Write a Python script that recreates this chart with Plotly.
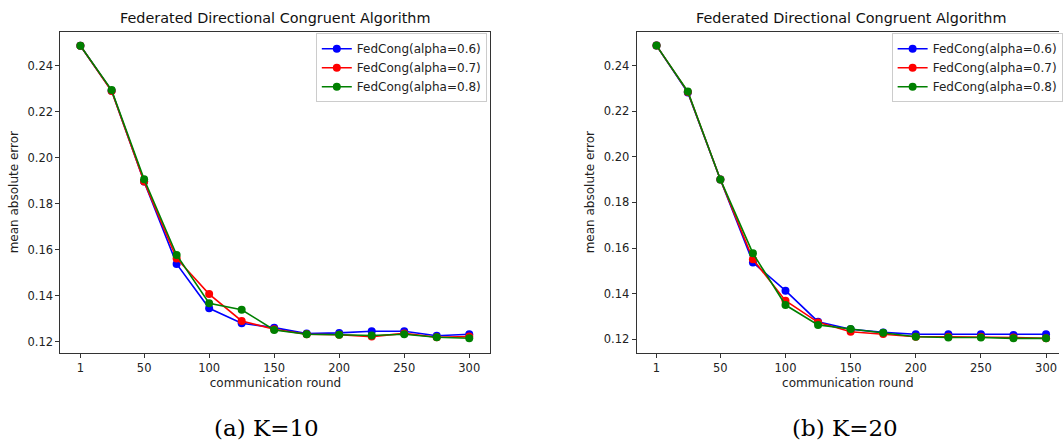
import plotly.graph_objects as go

rounds = [1, 25, 50, 75, 100, 125, 150, 175, 200, 225, 250, 275, 300]
x_ticks = [1, 50, 100, 150, 200, 250, 300]
y_ticks = [0.12, 0.14, 0.16, 0.18, 0.20, 0.22, 0.24]
series_names = ["FedCong(alpha=0.6)", "FedCong(alpha=0.7)", "FedCong(alpha=0.8)"]

# K=10
k10_a06 = [0.2487, 0.2291, 0.1896, 0.1538, 0.1345, 0.1280, 0.1261, 0.1235, 0.1238, 0.1245, 0.1245, 0.1226, 0.1232]
k10_a07 = [0.2487, 0.2290, 0.1896, 0.1562, 0.1407, 0.1290, 0.1254, 0.1232, 0.1230, 0.1222, 0.1236, 0.1219, 0.1222]
k10_a08 = [0.2487, 0.2294, 0.1906, 0.1577, 0.1367, 0.1339, 0.1251, 0.1232, 0.1230, 0.1227, 0.1232, 0.1219, 0.1215]

# K=20
k20_a06 = [0.2488, 0.2282, 0.1901, 0.1537, 0.1413, 0.1277, 0.1244, 0.1230, 0.1222, 0.1222, 0.1222, 0.1219, 0.1222]
k20_a07 = [0.2488, 0.2285, 0.1901, 0.1551, 0.1369, 0.1274, 0.1233, 0.1223, 0.1211, 0.1211, 0.1211, 0.1208, 0.1204]
k20_a08 = [0.2488, 0.2287, 0.1901, 0.1577, 0.1350, 0.1263, 0.1245, 0.1229, 0.1211, 0.1208, 0.1208, 0.1204, 0.1204]

colors = ["#0000ff", "#ff0000", "#008000"]
title_text = "Federated Directional Congruent Algorithm"
captions = ["(a) K=10", "(b) K=20"]

W, H = 1063, 443
FONT = "DejaVu Sans"

fig = go.Figure()

panels = [
    (["x", "y"], [k10_a06, k10_a07, k10_a08], "legend"),
    (["x2", "y2"], [k20_a06, k20_a07, k20_a08], "legend2"),
]
for (xa, ya), data, leg in panels:
    for name, vals, col in zip(series_names, data, colors):
        fig.add_trace(go.Scatter(
            x=rounds, y=vals, name=name, mode="lines+markers",
            xaxis=xa, yaxis=ya, legend=leg,
            line=dict(color=col, width=1.6),
            marker=dict(color=col, size=8),
        ))

def px_x(p):
    return p / W

def px_y(p):
    return 1 - p / H

axis_common = dict(
    showgrid=False, zeroline=False, showline=True, linecolor="#333333", linewidth=1,
    ticks="outside", ticklen=4, tickwidth=1, tickcolor="#333333",
    tickfont=dict(family=FONT, size=11.5, color="#222222"),
)
label_font = dict(family=FONT, size=12, color="#222222")

ydom = [px_y(352.7), px_y(31.7)]

fig.update_layout(
    width=W, height=H,
    margin=dict(l=0, r=0, t=0, b=0),
    paper_bgcolor="white", plot_bgcolor="white",
    font=dict(family=FONT, size=12, color="#222222"),
    xaxis=dict(axis_common, domain=[px_x(60.7), px_x(492.3)], range=[-14.32, 316.3],
               tickvals=x_ticks, mirror=True, anchor="y",
               title=dict(text="communication round", font=label_font, standoff=5)),
    yaxis=dict(axis_common, domain=ydom, range=[0.1152, 0.2548], tickvals=y_ticks,
               tickformat=".2f", mirror=True, anchor="x",
               title=dict(text="mean absolute error", font=label_font, standoff=6)),
    xaxis2=dict(axis_common, domain=[px_x(639), 1.0], range=[-14.29, 309.94],
                tickvals=x_ticks, mirror=True, anchor="y2",
                title=dict(text="communication round", font=label_font, standoff=5)),
    yaxis2=dict(axis_common, domain=ydom, range=[0.1141, 0.2549], tickvals=y_ticks,
                tickformat=".2f", mirror=False, anchor="x2",
                title=dict(text="mean absolute error", font=label_font, standoff=6)),
    legend=dict(x=px_x(317), y=px_y(33.3), xanchor="left", yanchor="top",
                bgcolor="rgba(255,255,255,0.8)", bordercolor="#cccccc", borderwidth=1,
                font=dict(family=FONT, size=12, color="#222222")),
    legend2=dict(x=px_x(895), y=px_y(33.3), xanchor="left", yanchor="top",
                 bgcolor="rgba(255,255,255,0.8)", bordercolor="#cccccc", borderwidth=1,
                 font=dict(family=FONT, size=12, color="#222222")),
    showlegend=True,
)

for cx in (276.5, 855):
    fig.add_annotation(x=px_x(cx), y=px_y(18.3), xref="paper", yref="paper",
                       text=title_text, showarrow=False, xanchor="center", yanchor="middle",
                       font=dict(family=FONT, size=14.4, color="#111111"))
for cx, cap in zip((268, 848), captions):
    fig.add_annotation(x=px_x(cx), y=px_y(427.5), xref="paper", yref="paper",
                       text=cap, showarrow=False, xanchor="center", yanchor="middle",
                       font=dict(family="DejaVu Serif", size=23, color="#000000"))

fig.write_html("out.html")
